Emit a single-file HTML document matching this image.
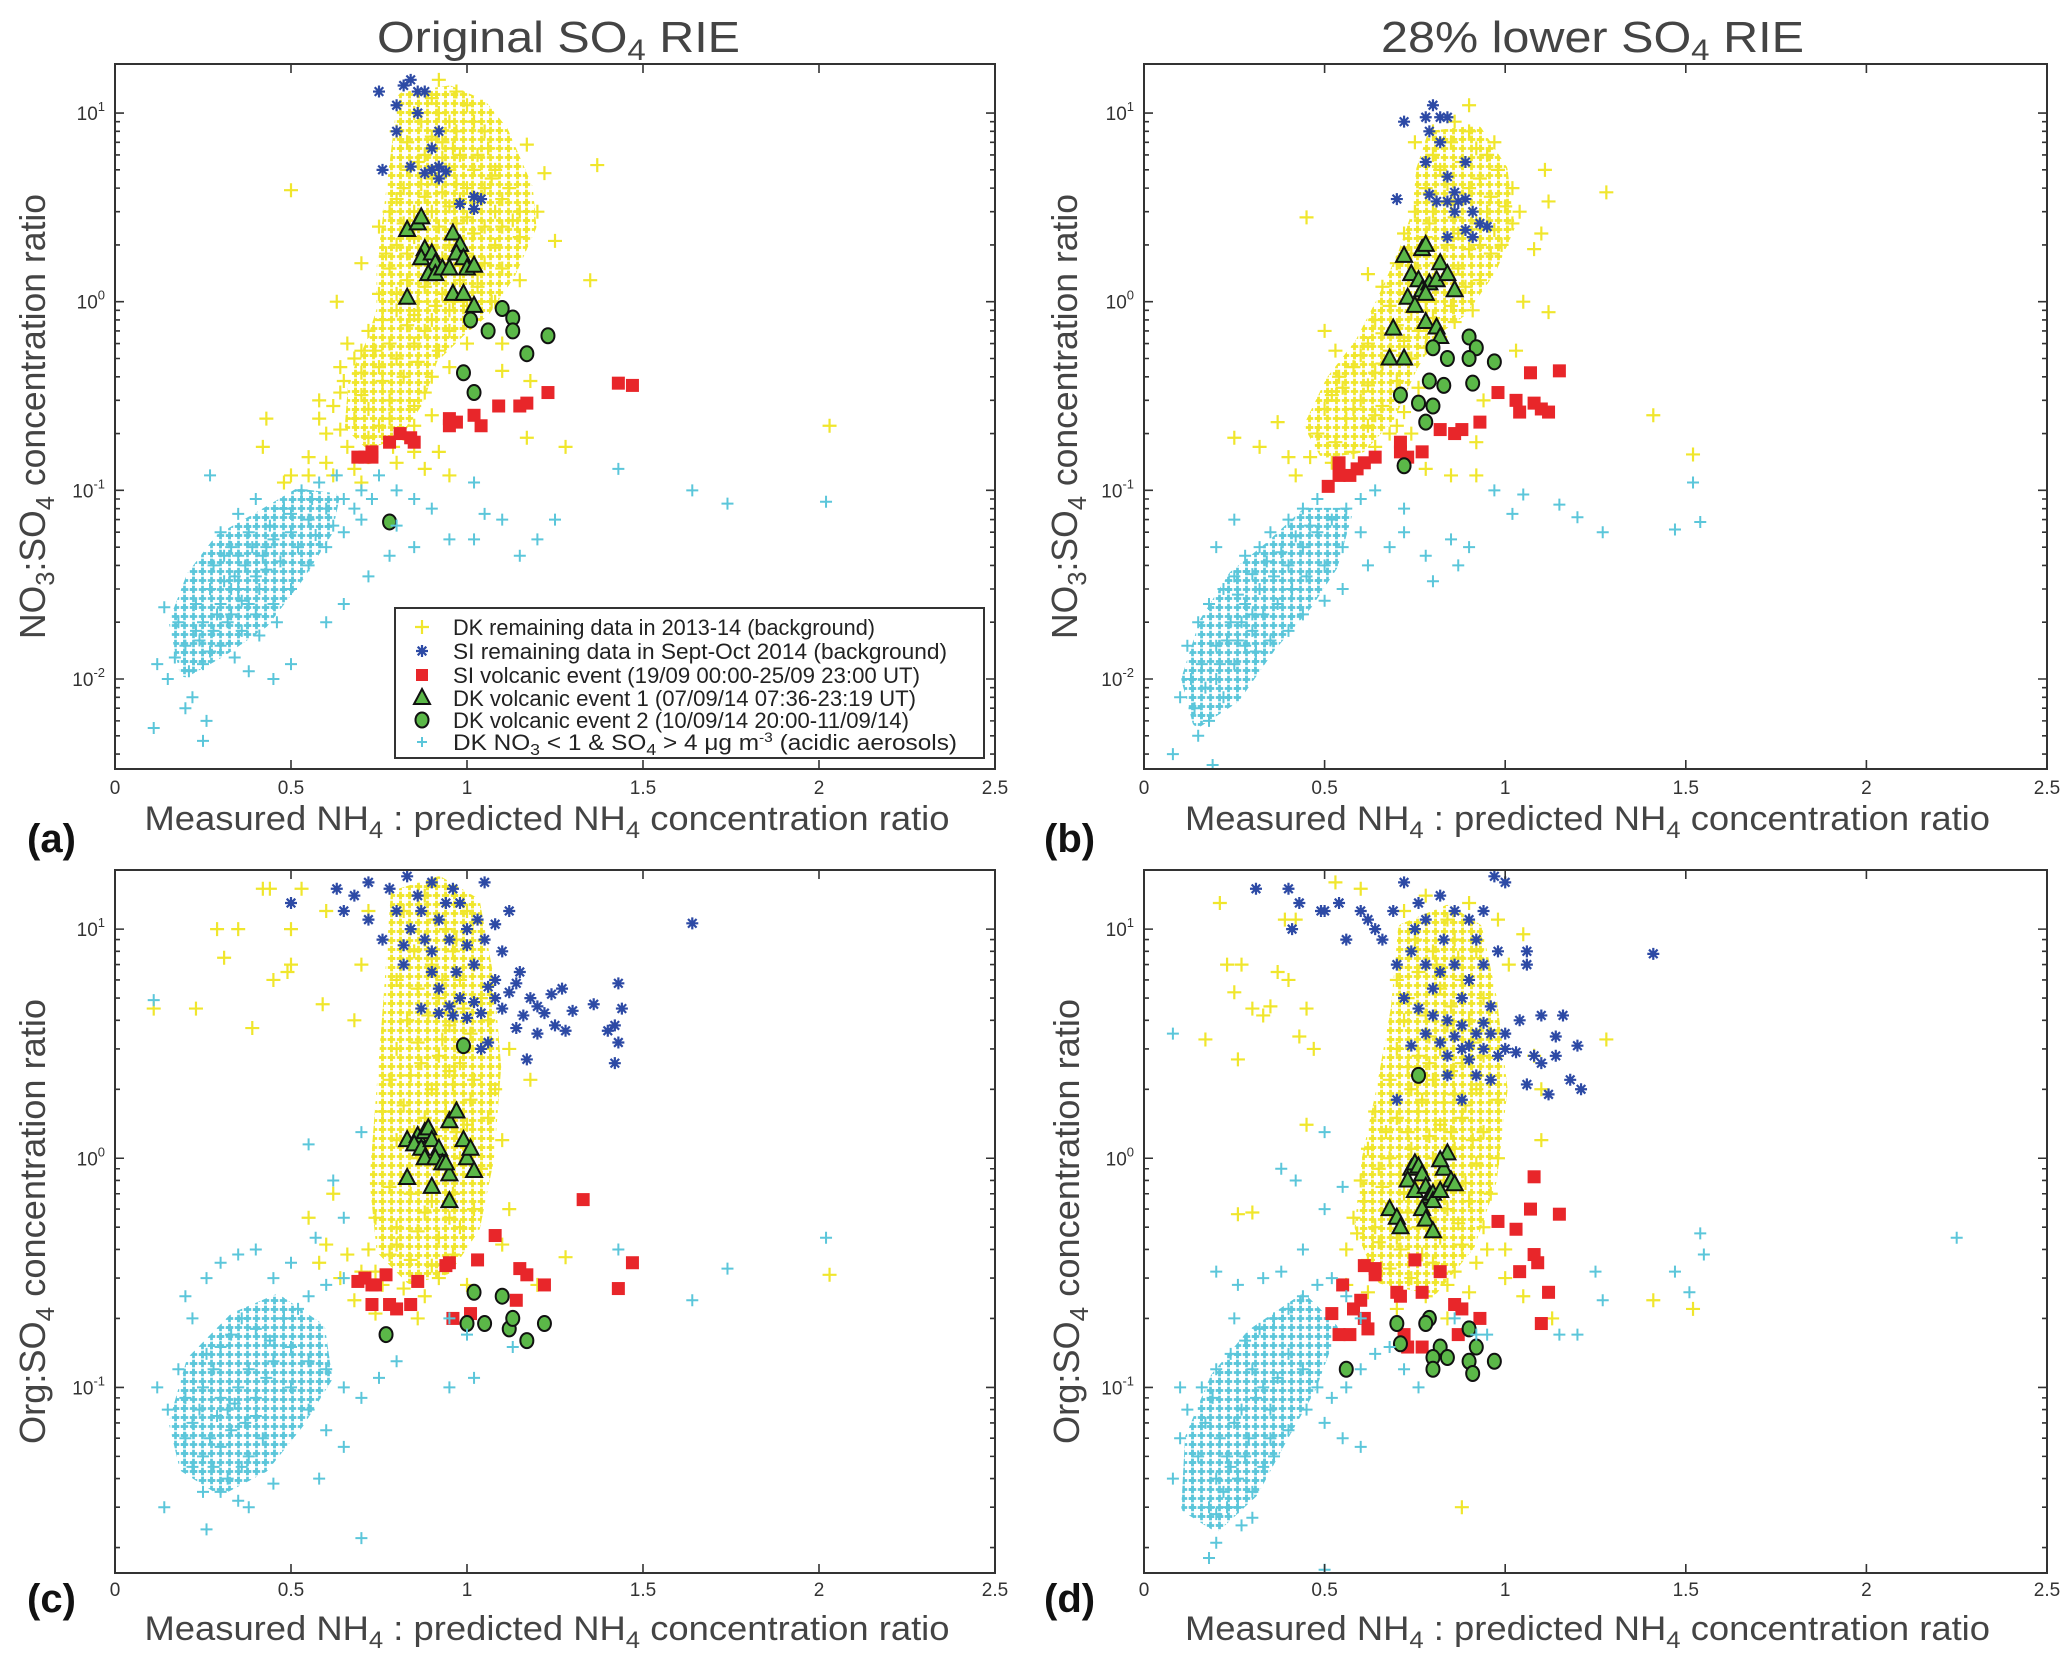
<!DOCTYPE html>
<html><head><meta charset="utf-8"><style>
html,body{margin:0;padding:0;background:#fff}
svg{display:block;font-family:"Liberation Sans",sans-serif}
</style></head><body>
<svg id="fig" width="2067" height="1668" viewBox="0 0 2067 1668" xmlns="http://www.w3.org/2000/svg">
<defs>
<pattern id="patY" patternUnits="userSpaceOnUse" width="9" height="9">
<path d="M0.8 4.5H8.2M4.5 0.8V8.2" stroke="#f0e62c" stroke-width="2.8" fill="none"/>
</pattern>
<pattern id="patC" patternUnits="userSpaceOnUse" width="9" height="9">
<path d="M0.8 4.5H8.2M4.5 0.8V8.2" stroke="#5bc6da" stroke-width="2.7" fill="none"/>
</pattern>
</defs>
<rect width="2067" height="1668" fill="#fff"/>
<text x="377" y="52" font-size="44" fill="#444" textLength="363" lengthAdjust="spacingAndGlyphs">Original SO<tspan font-size="30" dy="8">4</tspan><tspan dy="-8"> RIE</tspan></text>
<text x="1381" y="52" font-size="44" fill="#444" textLength="423" lengthAdjust="spacingAndGlyphs">28% lower SO<tspan font-size="30" dy="8">4</tspan><tspan dy="-8"> RIE</tspan></text>
<g id="plots"></g>
</svg>
<script>
// ---------- data: panel (a) NO3:SO4, original RIE ----------
const aYellow=[[0.8,8],[0.85,10],[0.9,12],[0.95,9],[1.0,11],[1.05,8],[0.88,6],[0.93,7],[0.98,6],[1.03,6],[1.08,5],[0.83,5],[0.9,4.5],[0.95,5],[1.0,4],[1.05,4],[1.1,3.5],[1.15,3],[0.8,3.5],[0.85,3],[0.9,3],[0.95,3.2],[1.0,2.8],[1.05,2.5],[1.1,2.5],[1.15,2.2],[1.2,3],[0.75,2.5],[0.8,2],[0.85,2.2],[0.9,2],[0.95,2],[1.0,1.8],[1.05,1.6],[1.1,1.5],[0.78,1.5],[0.83,1.3],[0.88,1.2],[0.93,1.1],[0.98,1.3],[1.03,1.2],[1.08,1.0],[0.7,1.6],[0.75,1.1],[0.8,0.9],[0.85,0.85],[0.9,0.8],[0.95,0.9],[1.0,0.95],[0.72,0.7],[0.78,0.6],[0.85,0.6],[0.92,0.55],[1.0,0.6],[1.1,0.6],[0.68,0.5],[0.75,0.45],[0.82,0.4],[0.9,0.4],[0.65,0.38],[0.7,0.32],[0.78,0.3],[0.85,0.28],[0.62,0.28],[0.68,0.24],[0.75,0.22],[0.82,0.2],[0.9,0.25],[0.6,0.2],[0.66,0.17],[0.72,0.15],[0.8,0.14],[0.88,0.13],[0.95,0.12],[0.55,0.15],[0.62,0.12],[0.7,0.11],
[0.87,9],[0.92,10],[0.97,8],[1.02,9],[0.83,7],[0.9,7.5],[0.96,6.5],[1.06,6.5],[0.86,5.5],[0.93,5.8],[1.02,5],[1.07,4.5],[0.82,4],[0.87,4.2],[0.97,4.2],[1.03,3.5],[1.12,4],[0.78,3],[0.88,3.6],[0.93,3.8],[0.98,3.5],[1.08,3],[1.13,2.7],[0.82,2.6],[0.87,2.7],[0.92,2.5],[0.97,2.6],[1.02,2.3],[1.08,2],[0.77,1.8],[0.83,1.8],[0.93,1.7],[0.98,1.55],[1.03,1.4],[0.8,1.1],[0.86,1.0],[0.91,0.95],[0.96,1.0],[0.76,0.8],[0.83,0.75],[0.88,0.7],[0.95,0.7],[0.74,0.55],[0.8,0.5],[0.86,0.48],[0.64,0.45],[0.7,0.42],[0.58,0.3],[0.72,0.27],[0.78,0.24],[0.58,0.24],[0.64,0.21],[0.85,0.22],[0.92,0.16],[0.85,0.16],
[0.5,3.9],[0.63,1.0],[1.37,5.3],[1.35,1.3],[1.25,2.1],[1.22,4.8],[1.17,6.8],[2.03,0.22],[1.28,0.17],[1.17,0.19],[0.42,0.17],[0.43,0.24],[1.07,1.0],[0.92,15],[0.97,13],[1.15,1.3],[1.18,0.38],[1.1,0.43],[0.55,0.12],[0.5,0.12],[0.48,0.11],[0.6,0.14],[0.68,0.13],[0.66,0.6],[0.7,0.55],[0.76,0.38],[0.88,0.33],[0.95,0.45],[0.64,0.33],[0.72,0.19],[0.79,0.17]];
const aYellowCore=[[0.82,12],[0.95,13],[1.04,11],[1.1,8],[1.17,4],[1.18,2.5],[1.12,1.4],[1.05,0.9],[0.98,0.7],[0.9,0.5],[0.86,0.3],[0.8,0.2],[0.72,0.18],[0.67,0.22],[0.68,0.38],[0.73,0.6],[0.76,0.9],[0.76,1.5],[0.78,3],[0.8,6]];
const aCyan=[[0.12,0.012],[0.15,0.01],[0.2,0.015],[0.25,0.02],[0.3,0.025],[0.35,0.03],[0.4,0.035],[0.28,0.04],[0.33,0.05],[0.38,0.06],[0.42,0.045],[0.45,0.055],[0.5,0.06],[0.55,0.07],[0.6,0.08],[0.65,0.09],[0.7,0.1],[0.75,0.12],[0.8,0.1],[0.85,0.09],[0.9,0.08],[0.3,0.015],[0.25,0.012],[0.22,0.008],[0.26,0.006],[0.2,0.007],[0.32,0.02],[0.36,0.018],[0.4,0.022],[0.45,0.025],[0.5,0.03],[0.55,0.04],[0.6,0.05],[0.65,0.06],[0.7,0.07],[0.48,0.08],[0.53,0.1],[0.58,0.11],[0.63,0.12],[0.35,0.075],[0.4,0.09],[0.3,0.06],[0.27,0.03],[0.23,0.025],[0.18,0.02],[0.17,0.013],[0.14,0.024],[0.27,0.12],[0.5,0.012],[0.45,0.01],[0.38,0.011],[0.6,0.02],[0.65,0.025],[0.72,0.035],[0.78,0.045],[0.85,0.05],[0.95,0.055],[1.02,0.055],[1.15,0.045],[1.05,0.075],[1.1,0.07],[1.2,0.055],[1.25,0.07],[1.02,0.11],[1.43,0.13],[1.64,0.1],[1.74,0.085],[2.02,0.087],[0.11,0.0055],[0.25,0.0047],[0.33,0.03],[0.37,0.04],[0.43,0.05],[0.31,0.045],[0.34,0.035],[0.29,0.022],[0.36,0.026],[0.41,0.03],[0.24,0.016],[0.28,0.018],[0.33,0.022],[0.38,0.025],[0.43,0.038],[0.47,0.042],[0.52,0.05],[0.57,0.058],[0.62,0.065],[0.68,0.08],[0.73,0.09],[0.31,0.033],[0.35,0.045],[0.39,0.05],[0.44,0.065],[0.5,0.075],[0.56,0.09],[0.21,0.011],[0.27,0.014],[0.23,0.018],[0.34,0.013],[0.41,0.017],[0.46,0.02],[0.8,0.065]];
const aCyanCore=[[0.2,0.011],[0.3,0.014],[0.42,0.02],[0.52,0.035],[0.6,0.06],[0.62,0.09],[0.52,0.095],[0.4,0.07],[0.3,0.055],[0.22,0.035],[0.17,0.02]];
const aBlue=[[0.75,13],[0.8,11],[0.82,14],[0.84,15],[0.86,13],[0.88,13],[0.86,10],[0.8,8],[0.92,8],[0.9,6.5],[0.76,5],[0.84,5.2],[0.88,4.8],[0.9,5],[0.92,5.2],[0.94,4.9],[0.92,4.5],[0.98,3.3],[1.02,3.6],[1.04,3.5],[1.02,3.1]];
const aRed=[[0.69,0.15],[0.71,0.15],[0.73,0.16],[0.73,0.15],[0.78,0.18],[0.81,0.2],[0.84,0.19],[0.85,0.18],[0.95,0.22],[0.95,0.24],[0.97,0.23],[1.02,0.25],[1.04,0.22],[1.09,0.28],[1.15,0.28],[1.17,0.29],[1.23,0.33],[1.43,0.37],[1.47,0.36]];
const aTri=[[0.83,2.4],[0.86,2.6],[0.87,2.8],[0.88,1.9],[0.87,1.7],[0.9,1.8],[0.91,1.6],[0.89,1.4],[0.91,1.4],[0.93,1.5],[0.95,1.5],[0.96,2.3],[0.98,2.0],[0.97,1.8],[0.99,1.7],[1.0,1.5],[1.02,1.55],[0.83,1.05],[0.96,1.1],[0.99,1.1],[1.02,0.95]];
const aCirc=[[1.1,0.92],[1.01,0.8],[1.06,0.7],[1.13,0.82],[1.13,0.7],[1.23,0.66],[1.17,0.53],[0.99,0.42],[1.02,0.33],[0.78,0.068]];
// ---------- panel (b) NO3:SO4, 28% lower RIE ----------
const bYellow=[[0.75,7],[0.8,6],[0.85,7],[0.9,8],[0.95,6],[0.82,5],[0.88,5.5],[0.93,4.5],[0.98,5],[1.02,4],[0.78,4],[0.84,4.2],[0.9,4],[0.96,3.6],[1.0,3.2],[0.75,3],[0.8,3],[0.86,2.8],[0.92,2.6],[0.97,2.4],[1.02,2.6],[0.72,2.3],[0.78,2.2],[0.84,2],[0.9,1.9],[0.96,1.8],[0.7,1.6],[0.75,1.5],[0.81,1.6],[0.87,1.5],[0.93,1.3],[0.66,1.2],[0.72,1.1],[0.78,1.0],[0.85,0.95],[0.91,0.9],[0.64,0.8],[0.7,0.75],[0.76,0.7],[0.82,0.65],[0.62,0.6],[0.68,0.55],[0.74,0.5],[0.58,0.45],[0.64,0.42],[0.7,0.38],[0.76,0.35],[0.55,0.35],[0.6,0.3],[0.66,0.28],[0.72,0.26],[0.5,0.27],[0.56,0.24],[0.62,0.22],[0.68,0.2],[0.74,0.2],[0.48,0.2],[0.53,0.18],[0.58,0.16],[0.64,0.17],[0.46,0.15],[0.52,0.14],[0.78,0.13],[0.85,0.12],[0.92,0.12],[0.8,8],[0.86,9],[0.92,6.5],[0.97,7],[0.79,2.6],[0.85,3.3],[0.95,3],[1.04,3],[0.87,2.3],[0.93,2],[0.99,2],[0.74,1.8],[0.8,1.3],[0.89,1.2],[0.68,0.95],[0.74,0.88],[0.8,0.82],[0.86,0.78],[0.66,0.68],[0.72,0.62],[0.78,0.57],[0.6,0.52],[0.66,0.47],[0.54,0.4],[0.62,0.36],[0.52,0.32],[0.58,0.27],[0.64,0.25],[0.7,0.22],
[0.45,2.8],[1.28,3.8],[1.11,5],[1.12,3.4],[1.12,0.88],[1.03,0.55],[1.41,0.25],[1.52,0.155],[0.25,0.19],[0.37,0.23],[0.32,0.17],[0.53,0.55],[0.5,0.7],[0.62,1.4],[1.08,1.9],[0.9,11],[0.92,0.18],[1.1,2.3],[0.4,0.15],[0.42,0.12],[0.94,0.3],[1.05,1.0]];
const bYellowCore=[[0.8,7.5],[0.92,8],[0.99,5],[1.01,2.5],[0.96,1.5],[0.88,0.9],[0.8,0.7],[0.74,0.45],[0.68,0.25],[0.6,0.17],[0.5,0.16],[0.46,0.22],[0.52,0.38],[0.6,0.6],[0.66,1.0],[0.72,1.8],[0.76,3],[0.77,5]];
const bCyan=[[0.08,0.004],[0.1,0.008],[0.13,0.01],[0.16,0.012],[0.2,0.015],[0.24,0.02],[0.28,0.025],[0.32,0.03],[0.36,0.035],[0.4,0.04],[0.44,0.05],[0.48,0.06],[0.52,0.07],[0.56,0.08],[0.6,0.09],[0.64,0.1],[0.2,0.01],[0.22,0.008],[0.18,0.006],[0.15,0.005],[0.25,0.012],[0.28,0.015],[0.3,0.018],[0.33,0.022],[0.37,0.025],[0.41,0.03],[0.45,0.035],[0.5,0.04],[0.55,0.05],[0.6,0.06],[0.22,0.03],[0.25,0.035],[0.28,0.045],[0.32,0.05],[0.35,0.06],[0.4,0.07],[0.44,0.08],[0.48,0.09],[0.2,0.05],[0.25,0.07],[0.18,0.025],[0.15,0.02],[0.12,0.015],[0.23,0.016],[0.27,0.02],[0.31,0.014],[0.35,0.016],[0.4,0.018],[0.44,0.022],[0.5,0.026],[0.55,0.03],[0.62,0.04],[0.68,0.05],[0.72,0.06],[0.78,0.045],[0.85,0.055],[0.9,0.05],[0.87,0.04],[0.8,0.033],[0.72,0.08],[0.97,0.1],[1.02,0.075],[1.05,0.095],[1.15,0.084],[1.2,0.072],[1.27,0.06],[1.47,0.062],[1.52,0.11],[1.54,0.068],[0.19,0.0035],[0.14,0.007],[0.26,0.028],[0.3,0.036],[0.34,0.042],[0.38,0.047],[0.42,0.057],[0.46,0.065],[0.3,0.022],[0.26,0.016],[0.21,0.012],[0.17,0.009]];
const bCyanCore=[[0.15,0.006],[0.25,0.008],[0.35,0.015],[0.45,0.025],[0.52,0.04],[0.56,0.075],[0.45,0.075],[0.35,0.05],[0.25,0.035],[0.17,0.02],[0.12,0.01]];
const bBlue=[[0.72,9],[0.8,11],[0.78,9.5],[0.79,8],[0.82,9.5],[0.84,9.5],[0.82,7],[0.78,5.5],[0.89,5.5],[0.70,3.5],[0.79,3.7],[0.81,3.4],[0.84,4.6],[0.84,3.4],[0.86,3.8],[0.87,3.4],[0.86,3],[0.89,3.5],[0.91,3],[0.93,2.6],[0.95,2.5],[0.84,2.2],[0.89,2.4],[0.91,2.2]];
const bRed=[[0.51,0.105],[0.54,0.12],[0.54,0.14],[0.57,0.12],[0.59,0.13],[0.61,0.14],[0.64,0.15],[0.71,0.16],[0.71,0.18],[0.73,0.15],[0.77,0.16],[0.82,0.21],[0.86,0.2],[0.88,0.21],[0.93,0.23],[0.98,0.33],[1.03,0.3],[1.04,0.26],[1.07,0.42],[1.08,0.29],[1.1,0.27],[1.12,0.26],[1.15,0.43]];
const bTri=[[0.72,1.75],[0.77,1.9],[0.78,2.0],[0.74,1.4],[0.76,1.3],[0.77,1.15],[0.79,1.25],[0.81,1.3],[0.82,1.6],[0.84,1.4],[0.86,1.15],[0.73,1.05],[0.75,0.95],[0.78,1.1],[0.69,0.72],[0.78,0.78],[0.81,0.73],[0.82,0.65],[0.68,0.5],[0.72,0.5]];
const bCirc=[[0.9,0.65],[0.92,0.57],[0.8,0.57],[0.84,0.5],[0.9,0.5],[0.97,0.48],[0.79,0.38],[0.83,0.36],[0.91,0.37],[0.71,0.32],[0.76,0.29],[0.8,0.28],[0.78,0.23],[0.72,0.135]];
// ---------- panel (c) Org:SO4, original RIE ----------
const cYellow=[[0.82,12],[0.88,14],[0.94,10],[1.0,12],[0.85,8],[0.9,7],[0.96,8],[1.02,7],[0.8,6],[0.86,5.5],[0.92,5],[0.98,6],[1.04,5],[0.83,4],[0.89,4.2],[0.95,3.8],[1.01,3.5],[1.06,4],[0.8,3],[0.86,3.2],[0.92,2.8],[0.98,2.6],[1.04,3],[0.78,2.2],[0.84,2.3],[0.9,2],[0.96,2.1],[1.02,2.2],[1.08,2],[0.76,1.6],[0.82,1.7],[0.88,1.5],[0.94,1.6],[1.0,1.4],[1.06,1.5],[0.8,1.2],[0.86,1.0],[0.92,0.9],[0.98,1.0],[1.04,0.9],[0.78,0.75],[0.84,0.7],[0.9,0.65],[0.96,0.7],[1.02,0.6],[0.74,0.55],[0.8,0.5],[0.86,0.48],[0.92,0.45],[0.98,0.5],[0.72,0.4],[0.78,0.38],[0.84,0.36],[0.9,0.34],[0.96,0.38],[0.7,0.32],[0.76,0.28],[0.82,0.27],[0.88,0.25],[0.68,0.24],[0.74,0.21],[0.86,0.2],[0.92,0.3],[1.0,0.28],[0.91,11],[0.97,9],[0.88,9],[0.93,6],[0.99,4.5],[0.87,2.6],[0.93,3.3],[0.99,2.9],[0.95,2.4],[1.01,1.8],[0.85,1.3],[0.91,1.25],[0.97,1.3],[0.83,0.85],[0.95,0.55],[0.88,0.58],[0.8,0.42],[0.74,0.32],[0.64,0.3],[0.66,0.38],
[0.11,4.5],[0.23,4.5],[0.29,10],[0.31,7.5],[0.35,10],[0.39,3.7],[0.45,6],[0.49,6.5],[0.5,10],[0.5,7],[0.59,4.7],[0.6,12],[0.42,15],[0.44,15],[0.53,15],[2.03,0.31],[1.28,0.37],[0.7,7],[0.68,4],[0.72,12],[1.12,3],[1.18,2.2],[1.1,1.2],[1.12,0.6],[0.62,0.7],[0.55,0.55],[1.1,0.42],[1.2,0.28],[0.6,0.42],[0.58,0.35]];
const cYellowCore=[[0.8,14],[0.92,16],[1.02,13],[1.06,6],[1.08,2.5],[1.06,1.0],[1.02,0.5],[0.94,0.33],[0.84,0.3],[0.76,0.4],[0.74,0.8],[0.76,2],[0.78,5]];
const cCyan=[[0.12,0.1],[0.15,0.08],[0.18,0.12],[0.2,0.09],[0.22,0.07],[0.25,0.1],[0.28,0.12],[0.3,0.09],[0.32,0.08],[0.35,0.1],[0.38,0.12],[0.4,0.09],[0.43,0.11],[0.45,0.13],[0.27,0.06],[0.3,0.055],[0.33,0.065],[0.37,0.07],[0.4,0.075],[0.25,0.05],[0.28,0.045],[0.32,0.04],[0.36,0.045],[0.2,0.06],[0.22,0.045],[0.25,0.035],[0.3,0.035],[0.35,0.032],[0.38,0.05],[0.42,0.06],[0.3,0.15],[0.33,0.17],[0.36,0.2],[0.4,0.18],[0.44,0.16],[0.48,0.2],[0.52,0.22],[0.55,0.25],[0.6,0.28],[0.65,0.3],[0.5,0.15],[0.55,0.13],[0.6,0.12],[0.65,0.1],[0.7,0.09],[0.75,0.11],[0.8,0.13],[0.5,0.1],[0.55,0.08],[0.6,0.065],[0.65,0.055],[0.26,0.14],[0.22,0.2],[0.2,0.25],[0.26,0.3],[0.3,0.35],[0.35,0.38],[0.4,0.4],[0.45,0.3],[0.5,0.35],[0.55,1.15],[0.62,0.8],[0.65,0.55],[0.57,0.45],[0.7,1.3],[0.11,4.9],[0.7,0.022],[0.26,0.024],[1.43,0.4],[1.64,0.24],[1.74,0.33],[2.02,0.45],[0.95,0.2],[1.0,0.17],[1.13,0.15],[1.02,0.11],[0.95,0.1],[0.58,0.04],[0.45,0.038],[0.38,0.03],[0.14,0.03],[0.29,0.075],[0.34,0.085],[0.24,0.08]];
const cCyanCore=[[0.2,0.045],[0.3,0.036],[0.42,0.045],[0.52,0.07],[0.6,0.11],[0.58,0.18],[0.46,0.24],[0.34,0.2],[0.22,0.13],[0.17,0.07]];
const cBlue=[[0.63,15],[0.68,14],[0.72,16],[0.78,15],[0.83,17],[0.9,16],[0.96,15],[1.05,16],[0.5,13],[0.65,12],[0.72,11],[0.8,12],[0.87,12],[0.92,11],[0.98,13],[1.03,11],[1.08,10.5],[1.12,12],[0.76,9],[0.82,8.5],[0.88,9],[0.95,9],[1.0,8.5],[1.05,9],[0.82,7],[0.9,6.5],[0.97,6.5],[1.02,7],[1.08,6],[1.15,6.5],[0.92,5.5],[0.98,5],[1.02,4.8],[1.08,5],[1.12,5.3],[1.18,5],[1.24,5.2],[1.27,5.5],[0.87,4.5],[0.92,4.3],[0.96,4.2],[1.0,4.1],[1.04,4.3],[1.1,4.5],[1.16,4.2],[1.22,4.3],[1.3,4.4],[1.36,4.7],[1.43,5.8],[1.44,4.5],[1.42,3.8],[1.4,3.6],[1.28,3.6],[1.14,3.7],[1.06,3.2],[1.04,3.0],[1.17,2.7],[1.42,2.6],[1.43,3.2],[1.64,10.6],[1.25,3.8],[1.2,3.5],[0.86,14],[0.94,13],[1.0,10],[0.84,10],[0.9,8],[1.1,8],[1.14,5.8],[0.95,4.6],[1.06,5.6],[1.2,4.6]];
const cRed=[[0.69,0.29],[0.71,0.3],[0.73,0.28],[0.74,0.28],[0.77,0.31],[0.73,0.23],[0.78,0.23],[0.8,0.22],[0.84,0.23],[0.86,0.29],[0.94,0.34],[0.95,0.35],[0.96,0.2],[1.01,0.21],[1.03,0.36],[1.08,0.46],[1.15,0.33],[1.17,0.31],[1.14,0.24],[1.22,0.28],[1.33,0.66],[1.43,0.27],[1.47,0.35]];
const cTri=[[0.83,1.2],[0.86,1.25],[0.88,1.3],[0.89,1.35],[0.85,1.15],[0.87,1.1],[0.9,1.2],[0.92,1.1],[0.88,1.0],[0.91,1.0],[0.93,0.95],[0.95,0.85],[0.95,1.45],[0.97,1.6],[0.99,1.2],[1.0,1.0],[1.01,1.1],[1.02,0.88],[0.83,0.82],[0.9,0.75],[0.95,0.65],[0.94,0.95]];
const cCirc=[[0.99,3.1],[1.02,0.26],[1.1,0.25],[1.0,0.19],[1.05,0.19],[1.12,0.18],[1.13,0.2],[1.17,0.16],[1.22,0.19],[0.77,0.17]];
// ---------- panel (d) Org:SO4, 28% lower RIE ----------
const dYellow=[[0.72,12],[0.78,14],[0.84,11],[0.9,13],[0.75,9],[0.8,8],[0.86,9],[0.92,8],[0.7,6],[0.76,6.5],[0.82,5.5],[0.88,6],[0.94,5],[0.72,4],[0.78,4.2],[0.84,3.8],[0.9,4],[0.96,3.5],[0.7,3],[0.76,2.8],[0.82,3],[0.88,2.6],[0.94,2.8],[0.68,2.2],[0.74,2],[0.8,2.2],[0.86,1.9],[0.92,2],[0.98,1.8],[0.64,1.6],[0.7,1.5],[0.76,1.6],[0.82,1.4],[0.88,1.5],[0.94,1.3],[0.62,1.1],[0.68,1.0],[0.74,1.1],[0.8,1.0],[0.86,1.1],[0.92,0.95],[0.98,1.0],[0.6,0.8],[0.66,0.75],[0.72,0.7],[0.78,0.65],[0.84,0.6],[0.9,0.65],[0.96,0.7],[0.58,0.55],[0.64,0.5],[0.7,0.45],[0.76,0.5],[0.82,0.45],[0.88,0.42],[0.94,0.5],[0.56,0.4],[0.62,0.36],[0.68,0.33],[0.74,0.3],[0.8,0.35],[0.86,0.32],[0.92,0.35],[0.56,0.28],[0.62,0.26],[0.7,0.22],[0.78,0.25],[0.9,0.26],[0.84,0.2],[0.81,7],[0.87,7.5],[0.73,5],[0.79,3.4],[0.85,4.6],[0.91,3.2],[0.73,2.5],[0.79,2.6],[0.85,2.4],[0.77,1.8],[0.83,1.75],[0.89,1.7],[0.67,1.3],[0.73,1.3],[0.79,1.25],[0.85,1.3],[0.91,1.2],[0.65,0.9],[0.71,0.85],[0.77,0.82],[0.83,0.8],[0.89,0.78],[0.61,0.65],[0.67,0.6],[0.73,0.58],[0.79,0.55],[0.87,0.52],[0.59,0.47],[0.65,0.43],[0.71,0.4],[0.77,0.38],[0.84,0.28],[0.95,0.4],
[0.21,13],[0.23,7],[0.25,5.3],[0.27,7],[0.3,4.5],[0.33,4.2],[0.35,4.6],[0.37,6.5],[0.39,11],[0.4,6],[0.42,11],[0.45,4.5],[0.47,3],[0.43,3.4],[0.17,3.3],[0.26,2.7],[0.45,1.4],[0.3,0.58],[0.26,0.57],[0.53,16],[0.6,15],[0.98,11],[1.01,7],[1.05,9.5],[1.28,3.3],[1.08,2.8],[1.1,2],[1.1,1.2],[1.0,0.4],[1.0,0.3],[1.41,0.24],[1.52,0.22],[0.88,0.03],[1.13,0.2],[1.05,0.25]];
const dYellowCore=[[0.72,10],[0.84,12],[0.92,10],[0.96,5],[0.99,2],[0.96,0.8],[0.9,0.42],[0.8,0.27],[0.66,0.3],[0.6,0.5],[0.62,1.0],[0.66,2],[0.7,4.5]];
const dCyan=[[0.08,0.04],[0.1,0.06],[0.12,0.08],[0.15,0.05],[0.17,0.07],[0.19,0.09],[0.21,0.06],[0.23,0.05],[0.25,0.07],[0.27,0.08],[0.29,0.06],[0.31,0.09],[0.33,0.1],[0.35,0.08],[0.37,0.11],[0.2,0.04],[0.22,0.035],[0.24,0.045],[0.26,0.04],[0.28,0.05],[0.18,0.03],[0.2,0.028],[0.23,0.03],[0.26,0.03],[0.3,0.035],[0.33,0.045],[0.36,0.05],[0.16,0.1],[0.2,0.12],[0.24,0.14],[0.28,0.16],[0.32,0.18],[0.36,0.2],[0.4,0.22],[0.44,0.25],[0.48,0.28],[0.52,0.3],[0.56,0.25],[0.6,0.2],[0.4,0.14],[0.44,0.12],[0.48,0.1],[0.52,0.09],[0.56,0.1],[0.6,0.12],[0.64,0.14],[0.68,0.15],[0.72,0.12],[0.76,0.1],[0.45,0.08],[0.5,0.07],[0.55,0.06],[0.6,0.055],[0.4,0.065],[0.35,0.06],[0.3,0.12],[0.25,0.2],[0.2,0.32],[0.26,0.28],[0.33,0.3],[0.38,0.32],[0.44,0.4],[0.5,0.6],[0.55,0.75],[0.38,0.9],[0.42,0.8],[0.5,1.3],[0.08,3.5],[0.18,0.018],[0.2,0.021],[0.5,0.016],[0.1,0.1],[1.54,0.47],[1.55,0.38],[1.47,0.32],[1.51,0.26],[1.25,0.32],[1.27,0.24],[1.15,0.17],[1.2,0.17],[2.25,0.45],[0.86,0.2],[0.92,0.17],[0.95,0.17],[0.27,0.025],[0.3,0.027]];
const dCyanCore=[[0.12,0.03],[0.2,0.025],[0.3,0.035],[0.38,0.06],[0.46,0.1],[0.52,0.18],[0.44,0.24],[0.3,0.17],[0.2,0.11],[0.13,0.06]];
const dBlue=[[0.31,15],[0.4,15],[0.41,10],[0.43,13],[0.49,12],[0.5,12],[0.54,13],[0.56,9],[0.6,12],[0.62,11],[0.64,10],[0.66,9],[0.69,12],[0.72,16],[0.76,13],[0.78,11],[0.82,14],[0.86,12],[0.9,11],[0.94,12],[0.97,17],[1.0,16],[0.7,7],[0.74,8],[0.78,7],[0.82,6.5],[0.86,7],[0.9,6],[0.94,7],[0.98,8],[1.06,8],[1.06,7],[0.72,5],[0.76,4.5],[0.8,4.2],[0.84,4],[0.88,3.8],[0.92,3.5],[0.96,3.5],[1.0,3.5],[1.04,4],[1.1,4.2],[1.16,4.2],[1.0,3],[0.88,3],[0.82,3.2],[0.78,3.5],[0.74,3.1],[0.9,3.1],[0.94,3],[0.98,2.8],[1.03,2.9],[1.08,2.8],[1.1,2.6],[1.14,2.8],[1.18,2.2],[1.21,2.0],[1.12,1.9],[1.06,2.1],[0.96,2.2],[0.92,2.3],[0.88,1.8],[0.84,2.3],[0.7,1.8],[1.41,7.8],[1.14,3.4],[1.2,3.1],[0.86,3.4],[0.9,2.7],[0.94,3.9],[0.84,2.8],[0.8,5.5],[0.88,5],[0.96,4.6],[0.75,10],[0.83,9],[0.92,9]];
const dRed=[[0.55,0.28],[0.52,0.21],[0.54,0.17],[0.57,0.17],[0.58,0.22],[0.6,0.24],[0.61,0.2],[0.62,0.18],[0.61,0.34],[0.64,0.31],[0.64,0.33],[0.7,0.26],[0.71,0.25],[0.72,0.17],[0.73,0.15],[0.75,0.36],[0.77,0.15],[0.77,0.26],[0.82,0.32],[0.86,0.23],[0.87,0.17],[0.88,0.22],[0.93,0.2],[0.98,0.53],[1.03,0.49],[1.07,0.6],[1.08,0.83],[1.08,0.38],[1.09,0.35],[1.04,0.32],[1.12,0.26],[1.1,0.19],[1.15,0.57]];
const dTri=[[0.68,0.6],[0.7,0.55],[0.71,0.5],[0.74,0.9],[0.75,0.95],[0.76,0.92],[0.77,0.85],[0.73,0.8],[0.75,0.72],[0.78,0.75],[0.79,0.68],[0.8,0.7],[0.8,0.65],[0.82,0.72],[0.77,0.6],[0.78,0.54],[0.8,0.48],[0.83,0.9],[0.84,1.05],[0.85,0.8],[0.86,0.77],[0.82,0.98]];
const dCirc=[[0.76,2.3],[0.7,0.19],[0.79,0.2],[0.78,0.19],[0.71,0.155],[0.82,0.15],[0.8,0.135],[0.84,0.135],[0.8,0.12],[0.9,0.18],[0.92,0.15],[0.9,0.13],[0.91,0.115],[0.97,0.13],[0.56,0.12]];
// tick labels
const xTicks=[0,0.5,1,1.5,2,2.5];
const xTickLabels=["0","0.5","1","1.5","2","2.5"];

const NS="http://www.w3.org/2000/svg";
const root=document.getElementById('plots');
function mk(tag,attrs,parent){const e=document.createElementNS(NS,tag);for(const k in attrs)e.setAttribute(k,attrs[k]);(parent||root).appendChild(e);return e;}

const panels=[
 {id:'a',x0:115,x1:995,y0:64,y1:769,lmin:-2.477,lmax:1.26,ylab:'NO3',yt:[-2,-1,0,1],Y:aYellow,YC:aYellowCore,C:aCyan,CC:aCyanCore,B:aBlue,R:aRed,T:aTri,O:aCirc,lx:27,ytx:32,letterY:852,tickY:794,titleY:830},
 {id:'b',x0:1144,x1:2047,y0:64,y1:769,lmin:-2.477,lmax:1.26,ylab:'NO3',yt:[-2,-1,0,1],Y:bYellow,YC:bYellowCore,C:bCyan,CC:bCyanCore,B:bBlue,R:bRed,T:bTri,O:bCirc,lx:1044,ytx:1064,letterY:852,tickY:794,titleY:830},
 {id:'c',x0:115,x1:995,y0:870,y1:1573,lmin:-1.81,lmax:1.258,ylab:'Org',yt:[-1,0,1],Y:cYellow,YC:cYellowCore,C:cCyan,CC:cCyanCore,B:cBlue,R:cRed,T:cTri,O:cCirc,lx:27,ytx:32,letterY:1612,tickY:1596,titleY:1640},
 {id:'d',x0:1144,x1:2047,y0:870,y1:1573,lmin:-1.81,lmax:1.258,ylab:'Org',yt:[-1,0,1],Y:dYellow,YC:dYellowCore,C:dCyan,CC:dCyanCore,B:dBlue,R:dRed,T:dTri,O:dCirc,lx:1044,ytx:1066,letterY:1612,tickY:1596,titleY:1640}
];

panels.forEach(p=>{
 const g=mk('g',{});
 
 
 const sx=v=>p.x0+(v/2.5)*(p.x1-p.x0);
 const sy=v=>p.y1-(Math.log10(v)-p.lmin)/(p.lmax-p.lmin)*(p.y1-p.y0);
 const syl=l=>p.y1-(l-p.lmin)/(p.lmax-p.lmin)*(p.y1-p.y0);
 const clip=mk('clipPath',{id:'clip'+p.id},g);
 mk('rect',{x:p.x0,y:p.y0,width:p.x1-p.x0,height:p.y1-p.y0},clip);
 const marks=mk('g',{'clip-path':'url(#clip'+p.id+')'},g);
 
 
 function core(d,pat,name){const pts=d.map(([x,y])=>sx(x)+','+sy(y)).join(' ');
  const pg=mk('polygon',{points:pts,fill:pat,stroke:pat,'stroke-width':12,'stroke-linejoin':'round'},marks);
  
  }
 function plus(d,col,s,w,name){const gg=mk('g',{stroke:col,'stroke-width':w},marks);
  
  
  let path='';d.forEach(([x,y])=>{const X=sx(x),Y=sy(y);path+=`M${X-s} ${Y}H${X+s}M${X} ${Y-s}V${Y+s}`;});mk('path',{d:path,fill:'none'},gg);}
 core(p.YC,'url(#patY)','dk-background-dense-core');
 plus(p.Y,'#f0e62c',7,2.2,'series-dk-background');
 core(p.CC,'url(#patC)','dk-acidic-dense-core');
 const gb=mk('g',{stroke:'#2d4aa5','stroke-width':2.2},marks);
 
 
 let bp='';p.B.forEach(([x,y])=>{const X=sx(x),Y=sy(y),s=6;bp+=`M${X-s} ${Y}H${X+s}M${X} ${Y-s}V${Y+s}M${X-4.3} ${Y-4.3}L${X+4.3} ${Y+4.3}M${X-4.3} ${Y+4.3}L${X+4.3} ${Y-4.3}`;});
 mk('path',{d:bp},gb);
 const gr=mk('g',{fill:'#e8262a'},marks);
 
 
 p.R.forEach(([x,y])=>mk('rect',{x:sx(x)-6.5,y:sy(y)-6.5,width:13,height:13},gr));
 const gt=mk('g',{fill:'#5bb848',stroke:'#111','stroke-width':2},marks);
 
 
 p.T.forEach(([x,y])=>{const X=sx(x),Y=sy(y);mk('path',{d:`M${X} ${Y-9}L${X+8} ${Y+6}L${X-8} ${Y+6}Z`},gt);});
 const gc=mk('g',{fill:'#5bb848',stroke:'#111','stroke-width':2},marks);
 
 
 p.O.forEach(([x,y])=>mk('ellipse',{cx:sx(x),cy:sy(y),rx:6.5,ry:7.5},gc));
 plus(p.C,'#5bc6da',6,2,'series-dk-acidic');
 const ax=mk('rect',{x:p.x0,y:p.y0,width:p.x1-p.x0,height:p.y1-p.y0,fill:'none',stroke:'#333','stroke-width':2},g);
 
 
 let tp='';
 xTicks.forEach((t,i)=>{const X=sx(t);tp+=`M${X} ${p.y1}V${p.y1-9}M${X} ${p.y0}V${p.y0+9}`;
  const tl=mk('text',{x:X,y:p.tickY,'font-size':19,fill:'#333','text-anchor':'middle'},g);tl.textContent=xTickLabels[i];
  
  });
 for(let dcd=Math.floor(p.lmin);dcd<=Math.ceil(p.lmax);dcd++){
  for(let m=1;m<10;m++){const l=dcd+Math.log10(m);if(l<p.lmin||l>p.lmax)continue;const len=m===1?9:5;const Y=syl(l);
   tp+=`M${p.x0} ${Y}H${p.x0+len}M${p.x1} ${Y}H${p.x1-len}`;}
 }
 mk('path',{d:tp,stroke:'#333','stroke-width':1.6,fill:'none'},g);
 p.yt.forEach(d=>{const Y=syl(d);const t=mk('text',{x:p.x0-10,y:Y+7,'font-size':19,fill:'#333','text-anchor':'end'},g);
  
  
  t.innerHTML='10<tspan font-size="13" dy="-9">'+d+'</tspan>';});
 const xt=mk('text',{x:(p.x0+p.x1)/2-8,y:p.titleY,'font-size':34,fill:'#444','text-anchor':'middle',textLength:805,lengthAdjust:'spacingAndGlyphs'},g);
 
 
 xt.innerHTML='Measured NH<tspan font-size="24" dy="8">4</tspan><tspan dy="-8"> : predicted NH</tspan><tspan font-size="24" dy="8">4</tspan><tspan dy="-8"> concentration ratio</tspan>';
 const cy=(p.y0+p.y1)/2;
 const yt=mk('text',{x:0,y:0,'font-size':36,fill:'#444','text-anchor':'middle',transform:`translate(${p.ytx+13},${cy}) rotate(-90)`,textLength:445,lengthAdjust:'spacingAndGlyphs'},g);
 
 
 yt.innerHTML=(p.ylab==='NO3'?'NO<tspan font-size="26" dy="9">3</tspan><tspan dy="-9">:SO</tspan>':'Org:SO')+'<tspan font-size="26" dy="9">4</tspan><tspan dy="-9"> concentration ratio</tspan>';
 const lt=mk('text',{x:p.lx,y:p.letterY,'font-size':40,'font-weight':'bold',fill:'#111'},g);
 
 
 lt.textContent='('+p.id+')';
});

// legend in panel (a)
const legendLabels=['DK remaining data in 2013-14 (background)','SI remaining data in Sept-Oct 2014 (background)','SI volcanic event (19/09 00:00-25/09 23:00 UT)','DK volcanic event 1 (07/09/14 07:36-23:19 UT)','DK volcanic event 2 (10/09/14 20:00-11/09/14)','DK NO3 < 1 & SO4 > 4 μg m-3 (acidic aerosols)'];
const lg=mk('g',{});


mk('rect',{x:395,y:608,width:589,height:150,fill:'#fff',stroke:'#333','stroke-width':2},lg);
const rowsY=[635,659,683,706,728,750];
const widths=[422,494,467,463,456,0];
legendLabels.forEach((lab,i)=>{
 const Y=rowsY[i],X=422,cy=Y-8;
 const e=mk('g',{},lg);
 
 
 if(i===0)mk('path',{d:`M${X-7} ${cy}H${X+7}M${X} ${cy-7}V${cy+7}`,stroke:'#f0e62c','stroke-width':2.2},e);
 if(i===1)mk('path',{d:`M${X-6} ${cy}H${X+6}M${X} ${cy-6}V${cy+6}M${X-4.3} ${cy-4.3}L${X+4.3} ${cy+4.3}M${X-4.3} ${cy+4.3}L${X+4.3} ${cy-4.3}`,stroke:'#2d4aa5','stroke-width':2.2},e);
 if(i===2)mk('rect',{x:X-6,y:cy-6,width:12,height:12,fill:'#e8262a'},e);
 if(i===3)mk('path',{d:`M${X} ${cy-9}L${X+8} ${cy+6}L${X-8} ${cy+6}Z`,fill:'#5bb848',stroke:'#111','stroke-width':2},e);
 if(i===4)mk('ellipse',{cx:X,cy:cy,rx:6.5,ry:7.5,fill:'#5bb848',stroke:'#111','stroke-width':2},e);
 if(i===5)mk('path',{d:`M${X-5} ${cy}H${X+5}M${X} ${cy-5}V${cy+5}`,stroke:'#5bc6da','stroke-width':2},e);
 const t=mk('text',{x:453,y:Y,'font-size':22,fill:'#222'},e);
 if(i===5){t.setAttribute('textLength',504);t.setAttribute('lengthAdjust','spacingAndGlyphs');
  t.innerHTML='DK NO<tspan font-size="16" dy="5">3</tspan><tspan dy="-5"> &lt; 1 &amp; SO</tspan><tspan font-size="16" dy="5">4</tspan><tspan dy="-5"> &gt; 4 μg m</tspan><tspan font-size="14" dy="-8">-3</tspan><tspan dy="8"> (acidic aerosols)</tspan>';}
 else{t.setAttribute('textLength',widths[i]);t.setAttribute('lengthAdjust','spacingAndGlyphs');t.textContent=lab;}
});
</script>
</body></html>
